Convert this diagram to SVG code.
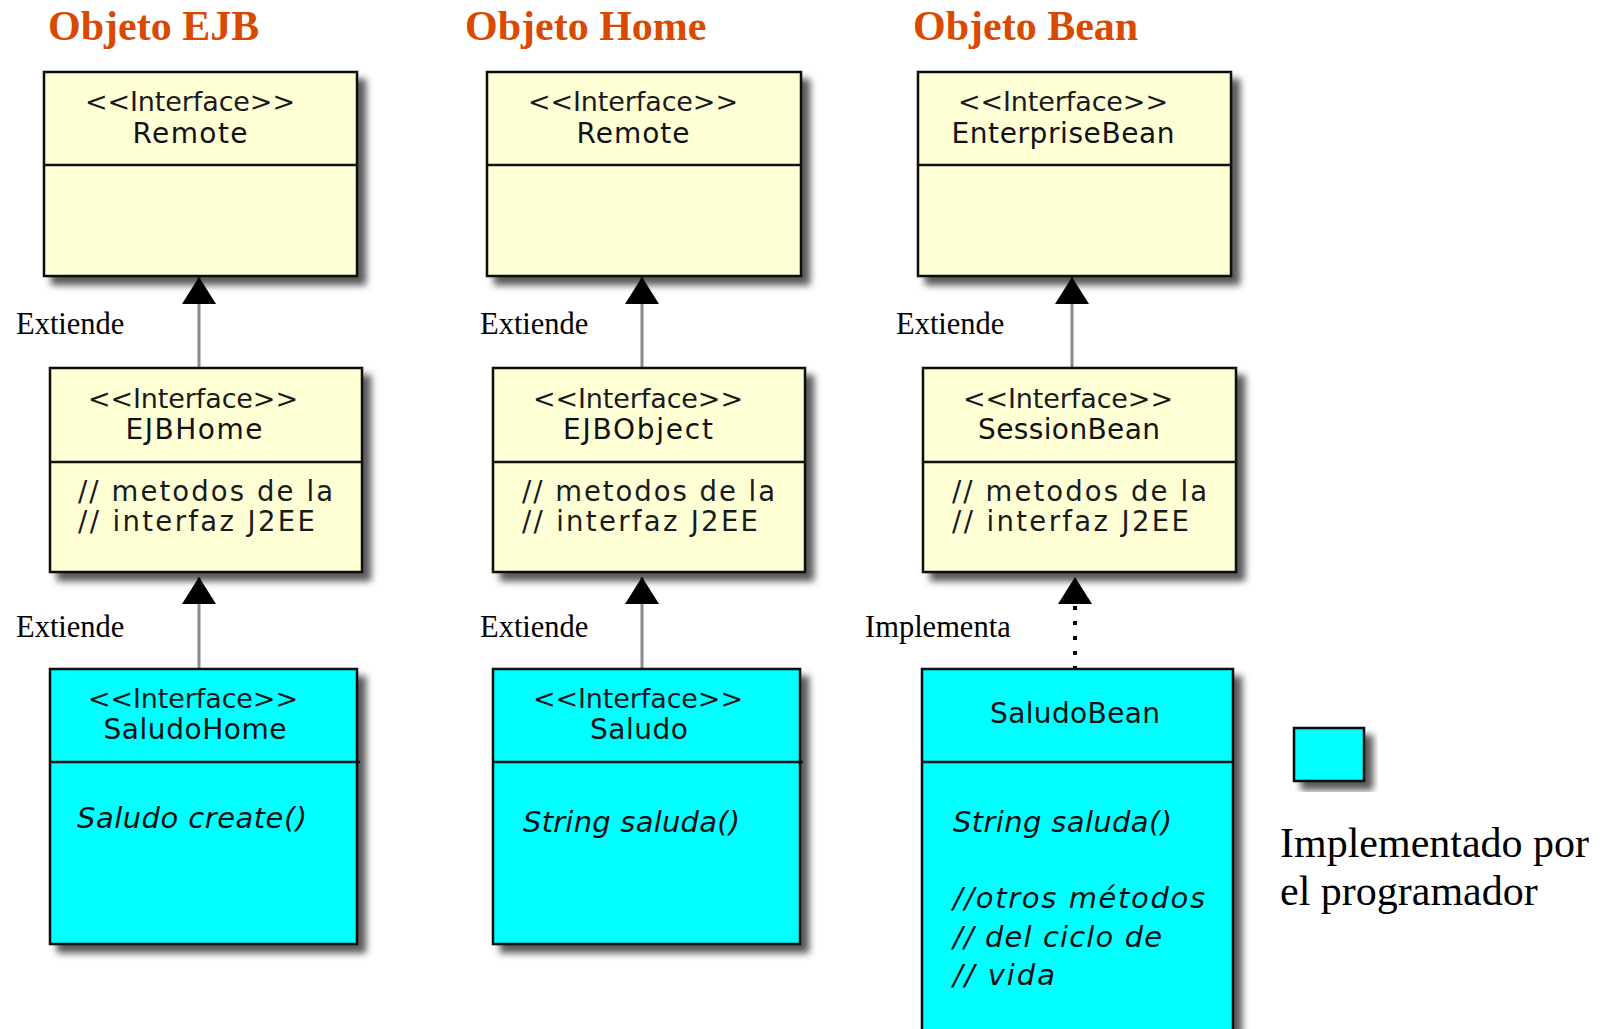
<svg xmlns="http://www.w3.org/2000/svg" width="1608" height="1029" viewBox="0 0 1608 1029">
  <style>
    .title { font-family: "Liberation Serif", "Times New Roman", serif; font-weight: bold; font-size: 42px; fill: #D94A00; }
    .label { font-family: "Liberation Serif", "Times New Roman", serif; font-size: 30.5px; fill: #000; }
    .legend { font-family: "Liberation Serif", "Times New Roman", serif; font-size: 42px; fill: #000; }
    .st { font-family: "DejaVu Sans", "Noto Sans", sans-serif; font-size: 27px; fill: #1a1a1a; text-anchor: middle; }
    .nm { font-family: "DejaVu Sans", "Noto Sans", sans-serif; font-size: 28px; fill: #111; text-anchor: middle; }
    .body { font-family: "DejaVu Sans", "Noto Sans", sans-serif; font-size: 27.5px; fill: #1a1a1a; }
    .op { font-family: "DejaVu Sans", "Noto Sans", sans-serif; font-size: 29px; font-style: italic; fill: #111; }
    .iface { fill: #FFFFD6; stroke: #111; stroke-width: 2.5; }
    .impl { fill: #00FFFF; stroke: #111; stroke-width: 2.5; }
    .div { stroke: #111; stroke-width: 2.5; }
    .gen { stroke: #8a8a8a; stroke-width: 3; fill: none; }
    .real { stroke: #000; stroke-width: 4; stroke-dasharray: 4 11; fill: none; }
  </style>
  <defs>
    <filter id="shadow" x="-10%" y="-10%" width="130%" height="130%">
      <feGaussianBlur in="SourceAlpha" stdDeviation="3.5"/>
      <feOffset dx="8" dy="8" result="b"/>
      <feFlood flood-color="#000" flood-opacity="0.65"/>
      <feComposite in2="b" operator="in"/>
      <feMerge>
        <feMergeNode/>
        <feMergeNode in="SourceGraphic"/>
      </feMerge>
    </filter>
    <marker id="tri" viewBox="-27 -17 27 34" refX="0" refY="0" markerWidth="27" markerHeight="34" markerUnits="userSpaceOnUse" orient="auto">
      <path d="M0,0 L-27,-17 L-27,17 Z" fill="#000"/>
    </marker>
  </defs>

  <rect x="0" y="0" width="1608" height="1029" fill="#fff"/>

  <!-- column headings -->
  <text class="title" x="48" y="40">Objeto EJB</text>
  <text class="title" x="465" y="40">Objeto Home</text>
  <text class="title" x="913" y="40">Objeto Bean</text>

  <!-- generalisation / realisation connectors -->
  <g id="connectors">
    <line class="gen" x1="199" y1="368" x2="199" y2="277" marker-end="url(#tri)"/>
    <line class="gen" x1="199" y1="669" x2="199" y2="577" marker-end="url(#tri)"/>
    <line class="gen" x1="642" y1="368" x2="642" y2="277" marker-end="url(#tri)"/>
    <line class="gen" x1="642" y1="669" x2="642" y2="577" marker-end="url(#tri)"/>
    <line class="gen" x1="1072" y1="368" x2="1072" y2="277" marker-end="url(#tri)"/>
    <line class="real" x1="1075" y1="670" x2="1075" y2="605"/>
    <path d="M1075,577 L1058,604 L1092,604 Z" fill="#000"/>
    <text class="label" x="16" y="334">Extiende</text>
    <text class="label" x="16" y="637">Extiende</text>
    <text class="label" x="480" y="334">Extiende</text>
    <text class="label" x="480" y="637">Extiende</text>
    <text class="label" x="896" y="334">Extiende</text>
    <text class="label" x="865" y="637">Implementa</text>
  </g>

  <!-- Objeto EJB column -->
  <g id="remote-ejb">
    <rect class="iface" x="44" y="72" width="313" height="204" filter="url(#shadow)"/>
    <line class="div" x1="44" y1="165" x2="357" y2="165"/>
    <text class="st" x="190" y="111" textLength="210">&lt;&lt;Interface&gt;&gt;</text>
    <text class="nm" x="190" y="143" textLength="115">Remote</text>
  </g>
  <g id="ejbhome">
    <rect class="iface" x="50" y="368" width="312" height="204" filter="url(#shadow)"/>
    <line class="div" x1="50" y1="462" x2="362" y2="462"/>
    <text class="st" x="193" y="408" textLength="210">&lt;&lt;Interface&gt;&gt;</text>
    <text class="nm" x="194" y="439" textLength="137">EJBHome</text>
    <text class="body" x="78" y="501" textLength="255">// metodos de la</text>
    <text class="body" x="78" y="531" textLength="237">// interfaz J2EE</text>
  </g>
  <g id="saludohome">
    <rect class="impl" x="50" y="669" width="307" height="275" filter="url(#shadow)"/>
    <line class="div" x1="50" y1="762" x2="360" y2="762"/>
    <text class="st" x="193" y="708" textLength="210">&lt;&lt;Interface&gt;&gt;</text>
    <text class="nm" x="195" y="739" textLength="183">SaludoHome</text>
    <text class="op" x="77" y="828" textLength="230">Saludo create()</text>
  </g>

  <!-- Objeto Home column -->
  <g id="remote-home">
    <rect class="iface" x="487" y="72" width="314" height="204" filter="url(#shadow)"/>
    <line class="div" x1="487" y1="165" x2="801" y2="165"/>
    <text class="st" x="633" y="111" textLength="210">&lt;&lt;Interface&gt;&gt;</text>
    <text class="nm" x="633" y="143" textLength="113">Remote</text>
  </g>
  <g id="ejbobject">
    <rect class="iface" x="493" y="368" width="312" height="204" filter="url(#shadow)"/>
    <line class="div" x1="493" y1="462" x2="805" y2="462"/>
    <text class="st" x="638" y="408" textLength="210">&lt;&lt;Interface&gt;&gt;</text>
    <text class="nm" x="638" y="439" textLength="150">EJBObject</text>
    <text class="body" x="522" y="501" textLength="253">// metodos de la</text>
    <text class="body" x="522" y="531" textLength="236">// interfaz J2EE</text>
  </g>
  <g id="saludo">
    <rect class="impl" x="493" y="669" width="307" height="275" filter="url(#shadow)"/>
    <line class="div" x1="493" y1="762" x2="803" y2="762"/>
    <text class="st" x="638" y="708" textLength="210">&lt;&lt;Interface&gt;&gt;</text>
    <text class="nm" x="639" y="739" textLength="98">Saludo</text>
    <text class="op" x="523" y="832" textLength="217">String saluda()</text>
  </g>

  <!-- Objeto Bean column -->
  <g id="enterprisebean">
    <rect class="iface" x="918" y="72" width="313" height="204" filter="url(#shadow)"/>
    <line class="div" x1="918" y1="165" x2="1231" y2="165"/>
    <text class="st" x="1063" y="111" textLength="210">&lt;&lt;Interface&gt;&gt;</text>
    <text class="nm" x="1063" y="143" textLength="223">EnterpriseBean</text>
  </g>
  <g id="sessionbean">
    <rect class="iface" x="923" y="368" width="313" height="204" filter="url(#shadow)"/>
    <line class="div" x1="923" y1="462" x2="1236" y2="462"/>
    <text class="st" x="1068" y="408" textLength="210">&lt;&lt;Interface&gt;&gt;</text>
    <text class="nm" x="1069" y="439" textLength="182">SessionBean</text>
    <text class="body" x="952" y="501" textLength="255">// metodos de la</text>
    <text class="body" x="952" y="531" textLength="237">// interfaz J2EE</text>
  </g>
  <g id="saludobean">
    <rect class="impl" x="922" y="669" width="311" height="380" filter="url(#shadow)"/>
    <line class="div" x1="922" y1="762" x2="1233" y2="762"/>
    <text class="nm" x="1075" y="723" textLength="170">SaludoBean</text>
    <text class="op" x="953" y="832" textLength="219">String saluda()</text>
    <text class="op" x="953" y="908" textLength="252">//otros métodos</text>
    <text class="op" x="953" y="947" textLength="209">// del ciclo de</text>
    <text class="op" x="953" y="985" textLength="102">// vida</text>
  </g>

  <!-- legend -->
  <g id="legend">
    <rect class="impl" x="1294" y="728" width="70" height="53" filter="url(#shadow)"/>
    <text class="legend" x="1280" y="857">Implementado por</text>
    <text class="legend" x="1280" y="905">el programador</text>
  </g>
</svg>
